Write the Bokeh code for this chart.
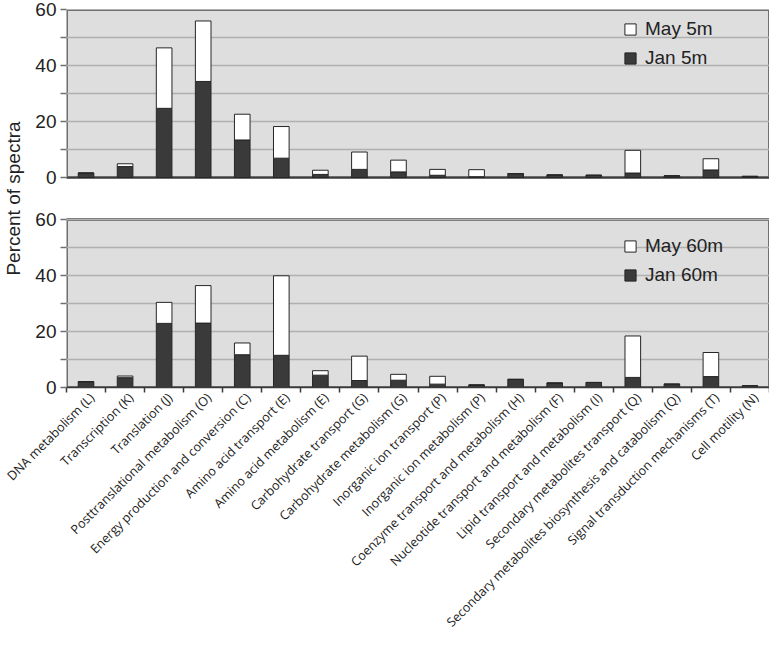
import math
from bokeh.plotting import figure
from bokeh.models import (ColumnDataSource, Range1d, FixedTicker, Legend, LegendItem, Grid)
from bokeh.embed import file_html
from bokeh.resources import INLINE

categories = [
    "DNA metabolism (L)", "Transcription (K)", "Translation (J)",
    "Posttranslational metabolism (O)", "Energy production and conversion (C)",
    "Amino acid transport (E)", "Amino acid metabolism (E)",
    "Carbohydrate transport (G)", "Carbohydrate metabolism (G)",
    "Inorganic ion transport (P)", "Inorganic ion metabolism (P)",
    "Coenzyme transport and metabolism (H)", "Nucleotide transport and metabolism (F)",
    "Lipid transport and metabolism (I)", "Secondary metabolites transport (Q)",
    "Secondary metabolites biosynthesis and catabolism (Q)",
    "Signal transduction mechanisms (T)", "Cell motility (N)",
]

# top panel (5 m)
jan_5m = [1.6, 3.9, 24.7, 34.3, 13.4, 6.9, 1.1, 2.9, 2.0, 0.8, 0.3, 1.4, 0.9, 0.8, 1.6, 0.6, 2.7, 0.4]
may_5m = [0.0, 1.0, 21.6, 21.6, 9.2, 11.3, 1.5, 6.2, 4.2, 2.1, 2.5, 0.0, 0.0, 0.0, 8.1, 0.0, 4.0, 0.0]

# bottom panel (60 m)
jan_60m = [2.1, 3.5, 22.9, 23.0, 11.7, 11.5, 4.4, 2.5, 2.6, 1.2, 0.9, 2.9, 1.6, 1.8, 3.6, 1.2, 3.9, 0.6]
may_60m = [0.0, 0.6, 7.5, 13.4, 4.2, 28.4, 1.6, 8.7, 2.1, 2.8, 0.0, 0.0, 0.0, 0.0, 14.8, 0.0, 8.6, 0.0]

y_major = [0, 20, 40, 60]
y_minor = [10, 30, 50]
y_label = "Percent of spectra"

BG = "#dedede"
GRID = "#b0b0b0"
AXG = "#707070"
XAX = "#3a3a3a"
DARK = "#3a3a3a"
EDGE = "#262626"
SANS = "Liberation Sans"
TXT = "#222222"

# layout constants (pixels)
FRAME_W = 703
FRAME_H = 378
PANEL_H = 168
YMAX = y_major[-1]
SPAN = YMAX * FRAME_H / PANEL_H          # data span of the whole frame
OFF = SPAN - YMAX                          # offset of the top panel in main coords
LABEL_SHIFT = 0.15

n = len(categories)
centers = [i + 0.5 for i in range(n)]
bounds = list(range(n + 1))
label_pos = [c + LABEL_SHIFT for c in centers]

p = figure(frame_width=FRAME_W, frame_height=FRAME_H, output_backend="svg",
           toolbar_location=None, x_range=Range1d(0, n), y_range=Range1d(0, SPAN),
           min_border_left=64, min_border_right=0, min_border_top=9, min_border_bottom=0)
p.extra_y_ranges = {"top": Range1d(YMAX - SPAN, YMAX)}
p.background_fill_color = "white"
p.border_fill_color = "white"
p.outline_line_color = None
p.xgrid.grid_line_color = None

# panel backgrounds
for rn in ("default", "top"):
    p.quad(left=0, right=n, bottom=0, top=YMAX, fill_color=BG, line_color=AXG,
           line_width=3, y_range_name=rn, level="image")

grid_ticks = sorted(y_major + y_minor)
p.ygrid.ticker = FixedTicker(ticks=grid_ticks)
p.ygrid.grid_line_color = GRID
p.ygrid.grid_line_width = 1.5
p.add_layout(Grid(dimension=1, ticker=FixedTicker(ticks=grid_ticks), y_range_name="top",
                  grid_line_color=GRID, grid_line_width=1.5))
p.add_layout(Grid(dimension=1, ticker=FixedTicker(ticks=[0]), y_range_name="top",
                  grid_line_color=XAX, grid_line_width=1.5))

src_top = ColumnDataSource(dict(x=centers, jan=jan_5m, may=may_5m))
src_bot = ColumnDataSource(dict(x=centers, jan=jan_60m, may=may_60m))
r_top = p.vbar_stack(["jan", "may"], x="x", width=0.4, source=src_top, y_range_name="top",
                     fill_color=[DARK, "white"], line_color=EDGE, line_width=1)
r_bot = p.vbar_stack(["jan", "may"], x="x", width=0.4, source=src_bot,
                     fill_color=[DARK, "white"], line_color=EDGE, line_width=1)

# y axis: ticks for both panels
yax = p.yaxis[0]
ticks = y_major + [v + OFF for v in y_major]
minors = y_minor + [v + OFF for v in y_minor]
yax.ticker = FixedTicker(ticks=ticks, minor_ticks=minors)
yax.major_label_overrides = {t: str(v) for t, v in zip(ticks, y_major + y_major)}
yax.axis_line_color = None
yax.major_tick_line_color = AXG
yax.minor_tick_line_color = AXG
yax.major_tick_out = 6
yax.major_tick_in = 0
yax.minor_tick_out = 6
yax.minor_tick_in = 0
yax.major_tick_line_width = 1.5
yax.minor_tick_line_width = 1.5
yax.major_label_text_font = SANS
yax.major_label_text_font_size = "19px"
yax.major_label_text_color = TXT
yax.major_label_standoff = 4
yax.axis_label = y_label
yax.axis_label_text_font = SANS
yax.axis_label_text_font_size = "19px"
yax.axis_label_text_font_style = "normal"
yax.axis_label_text_color = TXT
yax.axis_label_standoff = 8

# x axis
xax = p.xaxis[0]
xax.ticker = FixedTicker(ticks=label_pos, minor_ticks=bounds)
xax.major_label_overrides = {c: lab for c, lab in zip(label_pos, categories)}
xax.major_label_orientation = math.pi / 4
xax.major_label_text_font = "Open Sans"
xax.major_label_text_font_size = "12.6px"
xax.major_label_text_color = TXT
xax.major_label_standoff = 2
xax.axis_line_color = XAX
xax.axis_line_width = 1.5
xax.major_tick_line_color = None
xax.minor_tick_line_color = XAX
xax.minor_tick_line_width = 1.5
xax.minor_tick_out = 5
xax.minor_tick_in = 0


def make_legend(rs, may_label, jan_label, vy):
    return Legend(items=[LegendItem(label=may_label, renderers=[rs[1]]),
                         LegendItem(label=jan_label, renderers=[rs[0]])],
                  location=(557, vy), orientation="vertical",
                  background_fill_alpha=0, border_line_color=None,
                  glyph_width=14, glyph_height=14, label_height=22,
                  spacing=7, padding=4, margin=0, label_standoff=8,
                  label_text_font=SANS, label_text_font_size="19px",
                  label_text_color=TXT)


LEG_H = 2 * 22 + 7 + 2 * 4
p.add_layout(make_legend(r_top, "May 5m", "Jan 5m", FRAME_H - 1 - LEG_H))
p.add_layout(make_legend(r_bot, "May 60m", "Jan 60m", FRAME_H - (FRAME_H - PANEL_H) - 8 - LEG_H))

open("out.html", "w").write(file_html(p, INLINE))
